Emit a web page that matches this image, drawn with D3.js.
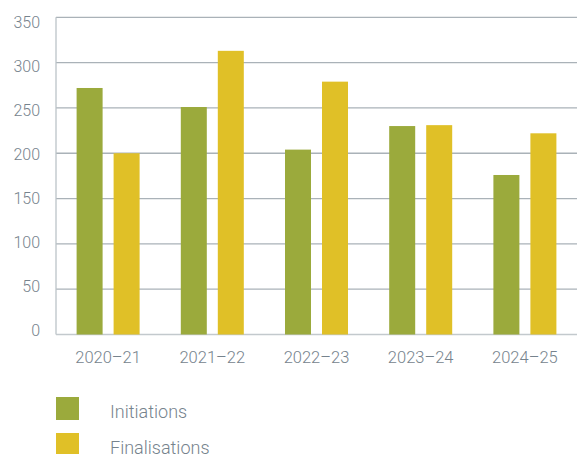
<!DOCTYPE html>
<html>
<head>
<meta charset="utf-8">
<script src="https://cdn.jsdelivr.net/npm/d3@7"></script>
<style>
  html, body { margin: 0; padding: 0; background: #fff; }
  svg { display: block; }
  text { font-family: Roboto, "Noto Sans", sans-serif; font-weight: 300; fill: #76838d; }
</style>
</head>
<body>
<svg id="chart" width="577" height="454"></svg>
<script>
// Financial years on the category axis
const years = ["2020–21", "2021–22", "2022–23", "2023–24", "2024–25"];
// Number of matters initiated and finalised per year
const initiations = [272, 251, 204, 230, 176];
const finalisations = [200, 313, 279, 231, 222];
// Value axis ticks
const yTicks = [0, 50, 100, 150, 200, 250, 300, 350];
const seriesNames = ["Initiations", "Finalisations"];
const seriesColors = ["#9baa3c", "#e0c027"];

const svg = d3.select("#chart");
const plotLeft = 56, plotRight = 577, plotTop = 17.3, plotBottom = 334.5;

const x = d3.scaleBand().domain(years).range([plotLeft, plotRight]).padding(0);
const y = d3.scaleLinear().domain([0, 350]).range([plotBottom, plotTop]);
// tick labels sit on a slightly tighter spacing than the gridlines
const yLabel = d3.scaleLinear().domain([0, 350]).range([330.5, 22.5]);

// horizontal gridlines
svg.append("g").selectAll("line")
  .data(yTicks.filter(d => d > 0))
  .join("line")
  .attr("x1", plotLeft).attr("x2", plotRight)
  .attr("y1", d => y(d)).attr("y2", d => y(d))
  .attr("stroke", "#aab2b8").attr("stroke-width", 1.3);

// left axis line and baseline
svg.append("line")
  .attr("x1", plotLeft).attr("x2", plotLeft).attr("y1", plotTop).attr("y2", plotBottom)
  .attr("stroke", "#bcc3c8").attr("stroke-width", 1.3);
svg.append("line")
  .attr("x1", plotLeft).attr("x2", plotRight).attr("y1", y(0)).attr("y2", y(0))
  .attr("stroke", "#c3c9cd").attr("stroke-width", 1.5);

// y tick labels
svg.append("g").selectAll("text")
  .data(yTicks)
  .join("text")
  .attr("x", 40).attr("y", d => yLabel(d))
  .attr("dy", "0.36em")
  .attr("text-anchor", "end")
  .attr("font-size", 16)
  .text(d => d);

// grouped bars
const barW = 26, gap = 11;
const series = [initiations, finalisations];
series.forEach((vals, si) => {
  svg.append("g").selectAll("rect")
    .data(vals.map((v, i) => ({ year: years[i], v })))
    .join("rect")
    .attr("x", d => x(d.year) + x.bandwidth() / 2 + (si === 0 ? -gap / 2 - barW : gap / 2))
    .attr("y", d => y(d.v))
    .attr("width", barW)
    .attr("height", d => y(0) - y(d.v))
    .attr("fill", seriesColors[si]);
});

// x category labels
svg.append("g").selectAll("text")
  .data(years)
  .join("text")
  .attr("x", d => x(d) + x.bandwidth() / 2)
  .attr("y", 362.5)
  .attr("text-anchor", "middle")
  .attr("font-size", 16.5)
  .text(d => d);

// legend
const legend = svg.append("g").selectAll("g")
  .data(seriesNames)
  .join("g")
  .attr("transform", (d, i) => `translate(56, ${397 + i * 36})`);
legend.append("rect")
  .attr("width", 23).attr("height", 23)
  .attr("fill", (d, i) => seriesColors[i]);
legend.append("text")
  .attr("x", 54).attr("y", 20.5)
  .attr("font-size", 18)
  .text(d => d);
</script>
</body>
</html>
